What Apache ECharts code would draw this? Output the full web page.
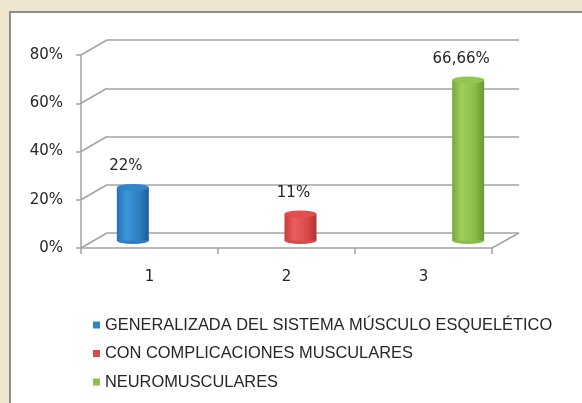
<!DOCTYPE html>
<html>
<head>
<meta charset="utf-8">
<script src="https://cdn.jsdelivr.net/npm/echarts@6/dist/echarts.min.js"></script>
<style>
  html, body { margin: 0; padding: 0; background: #efe5cf; }
  #main { width: 582px; height: 403px; }
</style>
</head>
<body>
<div id="main"></div>
<script>
// datos del grafico
var categories = ['1', '2', '3'];
var seriesNames = [
  'GENERALIZADA DEL SISTEMA MÚSCULO ESQUELÉTICO',
  'CON COMPLICACIONES MUSCULARES',
  'NEUROMUSCULARES'
];
var values = [0.22, 0.11, 0.6666];
var yTicks = [0, 0.2, 0.4, 0.6, 0.8];

var barColors = [
  { main: '#2e82c6', top: '#2f86c9', stops: ['#2673b4', '#3b96d9', '#2b7fc2', '#1c5d99'] },
  { main: '#e04848', top: '#e24e4e', stops: ['#c93b3b', '#ec5e5e', '#da4a4a', '#b03232'] },
  { main: '#8dc04a', top: '#92c452', stops: ['#78a83a', '#a0cf5e', '#8abd48', '#6c9534'] }
];
var gridColor = '#a3a3a3';
var textFont = '15px "DejaVu Sans"';

var chart = echarts.init(document.getElementById('main'));

function fmtPct(v) {
  return String(Math.round(v * 10000) / 100).replace('.', ',') + '%';
}

// cilindro 3D dibujado con las escalas del eje
function cylinder(idx) {
  return function (params, api) {
    var top = api.coord([api.value(0), api.value(1)]);
    var base = api.coord([api.value(0), 0]);
    var c = barColors[idx];
    var rx = 16, ry = 3.5;
    var cx = top[0];
    var grad = new echarts.graphic.LinearGradient(0, 0, 1, 0, [
      { offset: 0, color: c.stops[0] },
      { offset: 0.3, color: c.stops[1] },
      { offset: 0.7, color: c.stops[2] },
      { offset: 1, color: c.stops[3] }
    ]);
    return {
      type: 'group',
      children: [
        { type: 'circle', shape: { cx: 0, cy: 0, r: rx }, x: cx, y: base[1], scaleY: ry / rx, style: { fill: c.stops[2] } },
        { type: 'rect', shape: { x: cx - rx, y: top[1], width: rx * 2, height: base[1] - top[1] }, style: { fill: grad } },
        { type: 'circle', shape: { cx: 0, cy: 0, r: rx }, x: cx, y: top[1], scaleY: ry / rx, style: { fill: c.top } },
        { type: 'text', x: cx - 7, y: top[1] - 21,
          style: { text: fmtPct(api.value(1)), fill: '#262626', font: textFont, align: 'center', verticalAlign: 'middle' } }
      ]
    };
  };
}

var series = [];
// diagonales de perspectiva
series.push({
  type: 'custom',
  xAxisIndex: 0,
  yAxisIndex: 0,
  silent: true,
  data: yTicks.map(function (v) { return [0, v]; }),
  renderItem: function (params, api) {
    var p = api.coord([0, api.value(1)]);
    var cs = params.coordSys;
    var kids = [{ type: 'line', shape: { x1: cs.x, y1: p[1], x2: cs.x + 26, y2: p[1] - 15 }, style: { stroke: gridColor, lineWidth: 1.5 } }];
    if (api.value(1) === 0) {
      kids.push({ type: 'line', shape: { x1: cs.x + cs.width, y1: p[1], x2: cs.x + cs.width + 27, y2: p[1] - 15 }, style: { stroke: gridColor, lineWidth: 1.5 } });
    }
    return { type: 'group', children: kids };
  }
});
for (var i = 0; i < categories.length; i++) {
  series.push({
    name: seriesNames[i],
    type: 'custom',
    xAxisIndex: 2,
    yAxisIndex: 2,
    itemStyle: { color: barColors[i].main },
    data: [[i, values[i]]],
    renderItem: cylinder(i)
  });
}

var option = {
  backgroundColor: '#efe5cf',
  animation: false,
  graphic: [{
    type: 'rect',
    z: -10,
    shape: { x: 10, y: 12, width: 700, height: 500 },
    style: { fill: '#ffffff', stroke: '#8e8e8e', lineWidth: 2 }
  }],
  grid: [
    { left: 81, top: 55, width: 411, height: 193 },   // plano frontal
    { left: 107, top: 40, width: 412, height: 193 },  // pared del fondo
    { left: 49, top: 48, width: 503, height: 192.5 }  // plano de las barras
  ],
  xAxis: [
    {
      gridIndex: 0, type: 'category', data: categories,
      axisLine: { show: true, lineStyle: { color: gridColor, width: 1.5 } },
      axisTick: { show: true, length: 6, lineStyle: { color: gridColor, width: 1.5 } },
      axisLabel: { margin: 22, color: '#262626', fontFamily: 'DejaVu Sans', fontSize: 15 },
      splitLine: { show: false }
    },
    { gridIndex: 1, type: 'category', data: categories, show: false },
    { gridIndex: 2, type: 'category', data: categories, show: false }
  ],
  yAxis: [
    {
      gridIndex: 0, type: 'value', min: 0, max: 0.8, interval: 0.2,
      axisLine: { show: true, lineStyle: { color: gridColor, width: 1.5 } },
      axisTick: { show: true, length: 5, lineStyle: { color: gridColor, width: 1.5 } },
      axisLabel: {
        margin: 18, color: '#262626', fontFamily: 'DejaVu Sans', fontSize: 15,
        formatter: function (v) { return Math.round(v * 100) + '%'; }
      },
      splitLine: { show: false }
    },
    {
      gridIndex: 1, type: 'value', min: 0, max: 0.8, interval: 0.2,
      axisLine: { show: false }, axisTick: { show: false }, axisLabel: { show: false },
      splitLine: { show: true, lineStyle: { color: gridColor, width: 1.5 } }
    },
    { gridIndex: 2, type: 'value', min: 0, max: 0.8, show: false, splitLine: { show: false } }
  ],
  legend: {
    data: seriesNames,
    orient: 'vertical',
    left: 93,
    top: 317,
    padding: 0,
    icon: 'rect',
    itemWidth: 7,
    itemHeight: 7,
    itemGap: 12.5,
    selectedMode: false,
    textStyle: { color: '#262626', fontFamily: 'Liberation Sans', fontSize: 16.4, lineHeight: 16 }
  },
  series: series
};

chart.setOption(option);
</script>
</body>
</html>
